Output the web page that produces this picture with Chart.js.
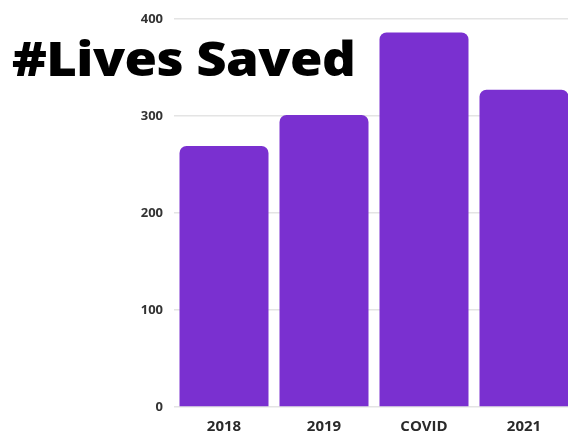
<!DOCTYPE html>
<html>
<head>
<meta charset="utf-8">
<script src="https://cdn.jsdelivr.net/npm/chart.js@4/dist/chart.umd.min.js"></script>
<style>
  html, body { margin: 0; padding: 0; background: #fff; overflow: hidden; }
  #wrap { position: relative; width: 574px; height: 439px; }
  #title {
    position: absolute; left: 12px; top: 26px;
    font-family: "Open Sans", sans-serif; font-weight: 800;
    font-size: 47px; color: #000; letter-spacing: -0.5px;
    white-space: nowrap; z-index: 2;
    transform: scaleX(1.12); transform-origin: left top;
  }
</style>
</head>
<body>
<div id="wrap">
  <canvas id="livesChart" width="574" height="439"></canvas>
  <div id="title">#Lives Saved</div>
</div>
<script>
// categories + values
var categories = ['2018', '2019', 'COVID', '2021'];
var livesSaved = [269, 301, 386, 327];
var yTicks = [0, 100, 200, 300, 400];

var ctx = document.getElementById('livesChart').getContext('2d');
var livesChart = new Chart(ctx, {
    type: 'bar',
    data: {
        labels: categories,
        datasets: [
            {
                label: 'Lives Saved',
                data: livesSaved,
                backgroundColor: '#7a30d0',
                borderWidth: 0,
                borderRadius: { topLeft: 7, topRight: 7 },
                borderSkipped: 'bottom',
                categoryPercentage: 1.0,
                barPercentage: 0.89
            }
        ]
    },
    options: {
        responsive: false,
        animation: false,
        layout: { padding: { top: 16, right: 0, left: 0, bottom: 0 } },
        plugins: {
            legend: { display: false },
            tooltip: { enabled: false }
        },
        scales: {
            x: {
                grid: { display: false },
                border: { display: false },
                ticks: {
                    color: '#2a2a2a',
                    font: { family: 'Open Sans', weight: 'bold', size: 15 },
                    padding: 3
                },
                afterFit: function(scale) { scale.height = 32; }
            },
            y: {
                min: 0,
                max: 400,
                afterBuildTicks: function(scale) {
                    scale.ticks = yTicks.map(function(v) { return { value: v }; });
                },
                grid: { color: '#e4e4e4', lineWidth: 1.5, drawTicks: false },
                border: { display: false },
                ticks: {
                    color: '#333',
                    font: { family: 'Open Sans', weight: 'bold', size: 13 },
                    padding: 11
                },
                afterFit: function(scale) { scale.width = 174; }
            }
        }
    }
});
</script>
</body>
</html>
